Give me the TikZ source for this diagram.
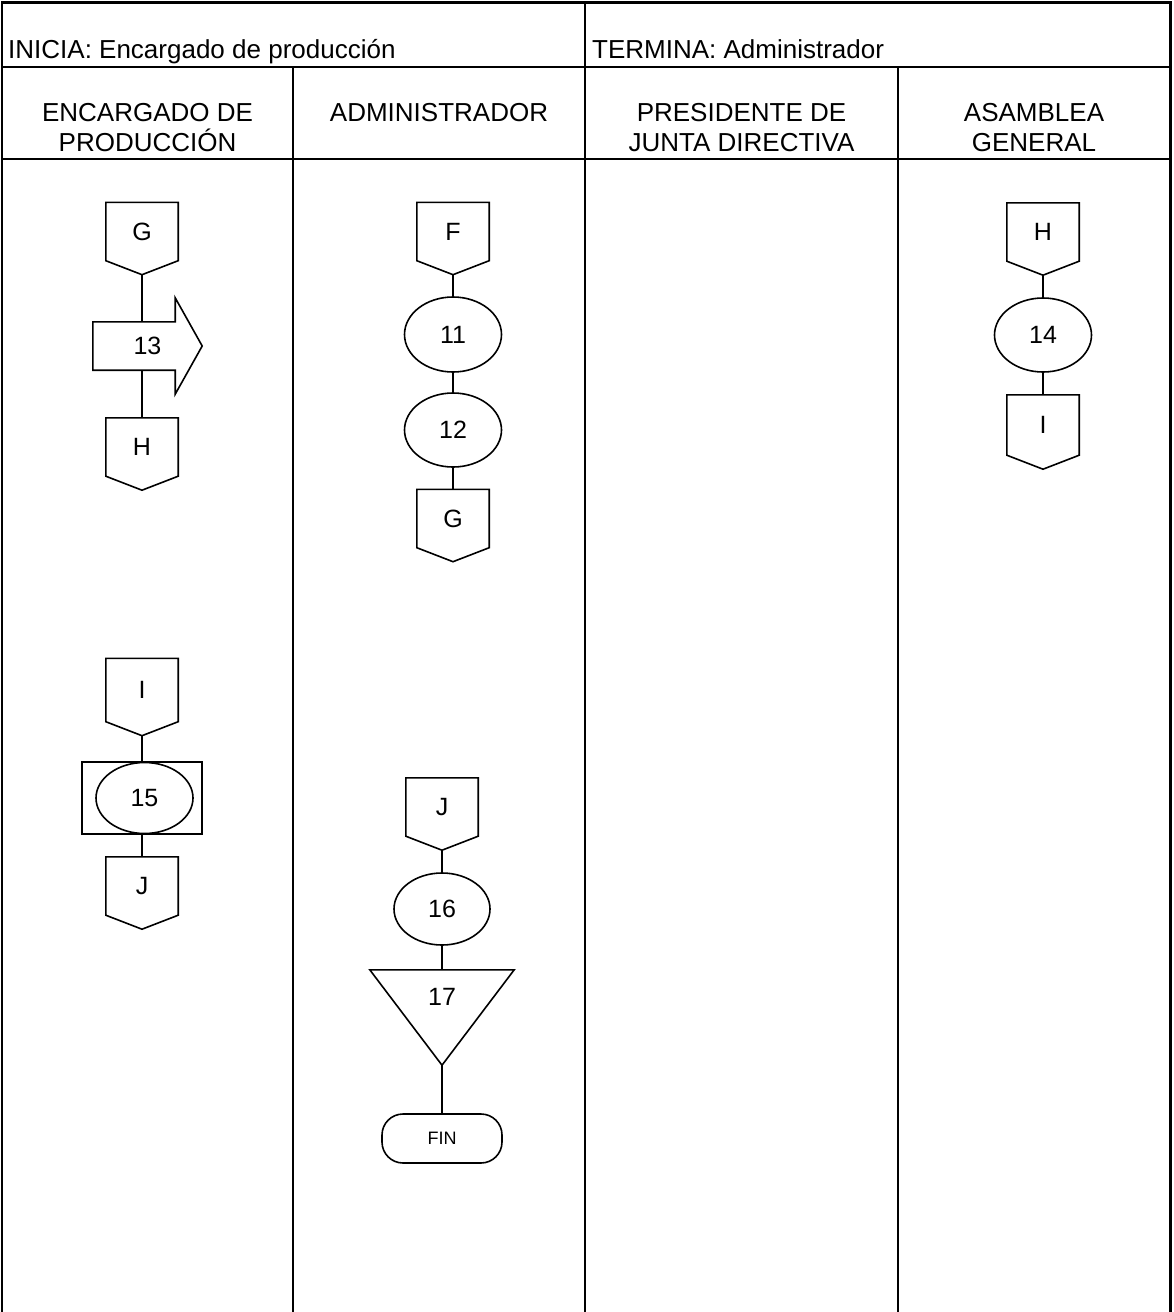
\documentclass[tikz,border=0pt]{standalone}
\usepackage{fontspec}
\setmainfont{Liberation Sans}
\usetikzlibrary{shapes.geometric}

% off-page connector: a box with a downward point; #1 box height, #2 name, #3 centre, #4 letter
\newcommand\offpageconn[4][58]{%
  \node[conn, minimum height=#1pt] (#2) at (#3) {#4};
  \draw[outline] (#2.north west) -- (#2.north east) -- (#2.south east)
    -- ([yshift=-14pt]#2.south) -- (#2.south west) -- cycle;
  \coordinate (#2-tip) at ([yshift=-14pt]#2.south);
}

\begin{document}
\begin{tikzpicture}[x=1pt,y=-1pt,
  frame/.style={line width=2.6pt, line cap=rect},
  link/.style={line width=1.6pt},
  outline/.style={line width=1.6pt, line join=miter},
  headtxt/.style={font=\fontsize{26}{30}\selectfont, inner sep=0pt},
  lanehead/.style={font=\fontsize{26}{30}\selectfont, align=center, anchor=north, inner sep=0pt},
  conn/.style={minimum width=72pt, inner sep=0pt, font=\fontsize{25}{28}\selectfont},
  op/.style={ellipse, draw, line width=1.6pt, minimum width=97pt, minimum height=74pt,
             inner sep=0pt, font=\fontsize{25}{28}\selectfont},
]
\useasboundingbox (0,0) rectangle (1173,1312);

% table frame and lane separators
\draw[frame] (2,1312) -- (2,2.5) -- (1170.5,2.5) -- (1170.5,1312);
\draw[frame] (2,67) -- (1170.5,67);
\draw[frame] (2,159) -- (1170.5,159);
\draw[frame] (585,2.5) -- (585,1312);
\draw[frame] (293,67) -- (293,1312);
\draw[frame] (898,67) -- (898,1312);

% header texts
\node[headtxt, anchor=base west] (inicia) at (8,58) {INICIA: Encargado de producción};
\node[headtxt, anchor=base west] (termina) at (592,58) {TERMINA: Administrador};
\node[lanehead] (lane1) at (147.5,103) {ENCARGADO DE\\PRODUCCIÓN};
\node[lanehead] (lane2) at (439,103) {ADMINISTRADOR};
\node[lanehead] (lane3) at (741.5,103) {PRESIDENTE DE\\JUNTA DIRECTIVA};
\node[lanehead] (lane4) at (1034,103) {ASAMBLEA\\GENERAL};

% ---- Encargado de producción ----
\offpageconn{gA}{142,231.5}{G}
\node[minimum width=109pt, minimum height=96pt, inner sep=0pt,
      font=\fontsize{25}{28}\selectfont] (a13) at (147.5,346) {13};
\draw[outline] ([yshift=-24pt]a13.north west)
  -- ([xshift=-27pt,yshift=-24pt]a13.north east)
  -- ([xshift=-27pt]a13.north east)
  -- (a13.east)
  -- ([xshift=-27pt]a13.south east)
  -- ([xshift=-27pt,yshift=24pt]a13.south east)
  -- ([yshift=24pt]a13.south west) -- cycle;
\coordinate (a13-top) at ([yshift=-24pt]a13.north west);
\coordinate (a13-bot) at ([yshift=24pt]a13.south west);
\offpageconn{hA}{142,447}{H}
\draw[link] (gA-tip) -- (gA-tip |- a13-top);
\draw[link] (hA.north |- a13-bot) -- (hA.north);

\offpageconn[63]{iA}{142,690}{I}
\node[draw, line width=1.8pt, minimum width=120pt, minimum height=72pt, inner sep=0pt] (b15) at (142,798) {};
\node[op, minimum height=71pt] (e15) at (144.5,798) {15};
\offpageconn{jA}{142,886}{J}
\draw[link] (iA-tip) -- (b15.north);
\draw[link] (b15.south) -- (jA.north);

% ---- Administrador ----
\offpageconn{fB}{453,231.5}{F}
\node[op, minimum height=75pt] (e11) at (453,334.5) {11};
\node[op] (e12) at (453,430) {12};
\offpageconn{gB}{453,518.5}{G}
\draw[link] (fB-tip) -- (e11.north);
\draw[link] (e11.south) -- (e12.north);
\draw[link] (e12.south) -- (gB.north);

\offpageconn{jB}{442,807}{J}
\node[op, minimum width=96pt, minimum height=72pt] (e16) at (442,909) {16};
\node[minimum width=144pt, minimum height=95pt, inner sep=0pt] (t17) at (442,1017.5) {};
\draw[outline] (t17.north west) -- (t17.north east) -- (t17.south) -- cycle;
\node[font=\fontsize{25}{28}\selectfont, inner sep=0pt] (n17) at (442,997) {17};
\node[draw, line width=1.6pt, rounded corners=21pt, minimum width=120pt, minimum height=49pt,
      inner sep=0pt, font=\fontsize{18}{21}\selectfont] (fin) at (442,1138.5) {FIN};
\draw[link] (jB-tip) -- (e16.north);
\draw[link] (e16.south) -- (t17.north);
\draw[link] (t17.south) -- (fin.north);

% ---- Asamblea general ----
\offpageconn{hD}{1043,232}{H}
\node[op] (e14) at (1043,335) {14};
\offpageconn[60]{iD}{1043,425}{I}
\draw[link] (hD-tip) -- (e14.north);
\draw[link] (e14.south) -- (iD.north);
\end{tikzpicture}
\end{document}
